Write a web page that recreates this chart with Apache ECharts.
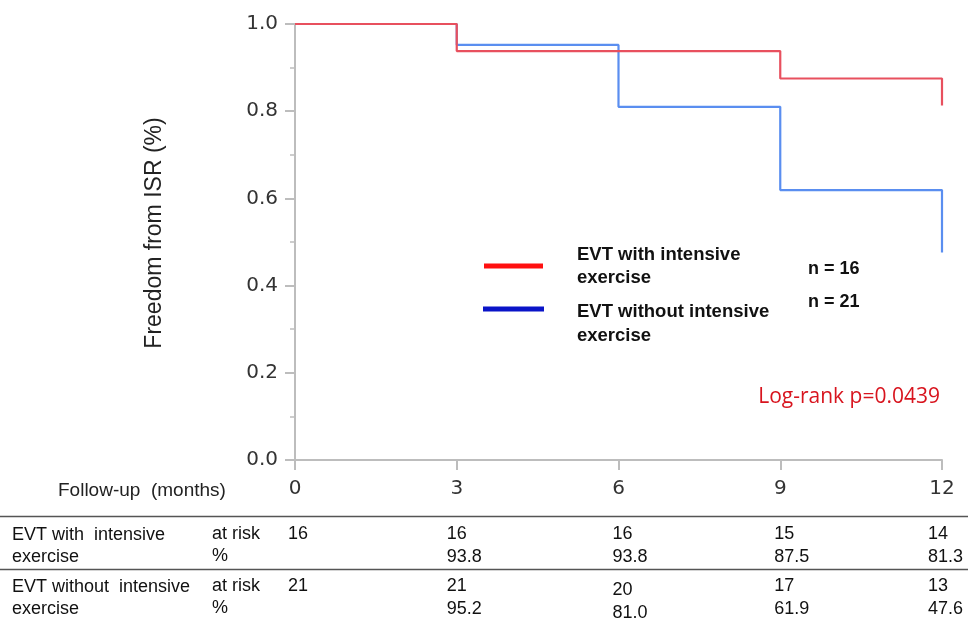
<!DOCTYPE html>
<html>
<head>
<meta charset="utf-8">
<script src="https://cdn.jsdelivr.net/npm/echarts@6/dist/echarts.min.js"></script>
<style>html,body{margin:0;padding:0;background:#fff;}#c{width:968px;height:619px;}</style>
</head>
<body>
<div id="c"></div>
<script>
// ---- data ----
var months = [0, 3, 6, 9, 12];
var yTicks = [0.0, 0.2, 0.4, 0.6, 0.8, 1.0];
var withTimes = [0, 3, 9, 12];
var withSurv = [1.0, 0.938, 0.875, 0.813];
var withoutTimes = [0, 3, 6, 9, 12];
var withoutSurv = [1.0, 0.952, 0.810, 0.619, 0.476];
var groupNames = ['EVT with intensive\nexercise', 'EVT without intensive\nexercise'];
var groupN = ['n = 16', 'n = 21'];
var tableRowNames = ['EVT with  intensive\nexercise', 'EVT without  intensive\nexercise'];
var withAtRisk = [16, 16, 16, 15, 14];
var withPct = ['', '93.8', '93.8', '87.5', '81.3'];
var withoutAtRisk = [21, 21, 20, 17, 13];
var withoutPct = ['', '95.2', '81.0', '61.9', '47.6'];
var pText = 'Log-rank p=0.0439';

function pairs(t, s) { return t.map(function (v, i) { return [v, s[i]]; }); }

var chart = echarts.init(document.getElementById('c'), null, {renderer: 'canvas'});
var axisGray = '#bdbdbd';
chart.setOption({
  animation: false,
  backgroundColor: '#ffffff',
  grid: {left: 295, right: 26, top: 24, bottom: 159, containLabel: false},
  xAxis: {
    type: 'value', min: 0, max: 12, interval: 3,
    axisLine: {show: true, lineStyle: {color: axisGray, width: 2}},
    axisTick: {show: true, length: 10, lineStyle: {color: axisGray, width: 2}},
    splitLine: {show: false},
    axisLabel: {margin: 19, fontFamily: 'DejaVu Sans', fontSize: 20, color: '#333'}
  },
  yAxis: {
    type: 'value', min: 0, max: 1, interval: 0.2,
    axisLine: {show: true, lineStyle: {color: axisGray, width: 2}},
    axisTick: {show: true, length: 10, lineStyle: {color: axisGray, width: 2}},
    minorTick: {show: true, splitNumber: 2, length: 5, lineStyle: {color: axisGray, width: 1.5}},
    splitLine: {show: false},
    axisLabel: {margin: 17, fontFamily: 'DejaVu Sans', fontSize: 20, color: '#333',
      formatter: function (v) { return v.toFixed(1); }}
  },
  series: [
    {type: 'line', step: 'end', data: pairs(withTimes, withSurv), showSymbol: false,
     lineStyle: {color: '#e8505e', width: 2.2}, z: 3},
    {type: 'line', step: 'end', data: pairs(withoutTimes, withoutSurv), showSymbol: false,
     lineStyle: {color: '#5a8ef0', width: 2.2}, z: 2}
  ]
});

var tf = 'Liberation Sans, Arial, sans-serif';
var g = [];
// y axis title
g.push({type: 'text', x: 155, y: 233, rotation: Math.PI / 2,
  style: {text: 'Freedom from ISR (%)', font: '23px ' + tf, fill: '#222', textAlign: 'center', textVerticalAlign: 'middle'}});
// legend
g.push({type: 'line', shape: {x1: 484, y1: 266, x2: 543, y2: 266}, style: {stroke: '#ff1010', lineWidth: 5}});
g.push({type: 'line', shape: {x1: 483, y1: 309, x2: 544, y2: 309}, style: {stroke: '#0a14c8', lineWidth: 5}});
g.push({type: 'text', x: 577, y: 243, style: {text: groupNames[0], font: 'bold 18.5px ' + tf, fill: '#111', lineHeight: 23}});
g.push({type: 'text', x: 577, y: 300, style: {text: groupNames[1], font: 'bold 18.5px ' + tf, fill: '#111', lineHeight: 24}});
g.push({type: 'text', x: 808, y: 269, style: {text: groupN[0], font: 'bold 18px ' + tf, fill: '#111', textVerticalAlign: 'middle'}});
g.push({type: 'text', x: 808, y: 302, style: {text: groupN[1], font: 'bold 18px ' + tf, fill: '#111', textVerticalAlign: 'middle'}});
// log-rank
g.push({type: 'text', x: 940, y: 397, style: {text: pText, font: '21px "Open Sans", sans-serif', fill: '#d8141e', textAlign: 'right', textVerticalAlign: 'middle'}});
// follow-up label
g.push({type: 'text', x: 58, y: 491, style: {text: 'Follow-up  (months)', font: '19px ' + tf, fill: '#222', textVerticalAlign: 'middle'}});
// table lines
g.push({type: 'line', shape: {x1: 0, y1: 516.5, x2: 968, y2: 516.5}, style: {stroke: '#555', lineWidth: 1.5}});
g.push({type: 'line', shape: {x1: 0, y1: 569.5, x2: 968, y2: 569.5}, style: {stroke: '#555', lineWidth: 1.5}});
// row labels
var rowY = [535, 587];
for (var r = 0; r < 2; r++) {
  g.push({type: 'text', x: 12, y: rowY[r] - 11, style: {text: tableRowNames[r], font: '18px ' + tf, fill: '#111', lineHeight: 22}});
  g.push({type: 'text', x: 212, y: rowY[r] - 12, style: {text: 'at risk\n%', font: '18px ' + tf, fill: '#111', lineHeight: 22}});
}
var risk = [withAtRisk, withoutAtRisk];
var pct = [withPct, withoutPct];
var offs = [-7, -10, -6, -6, -14];
for (var r2 = 0; r2 < 2; r2++) {
  for (var i = 0; i < months.length; i++) {
    var px = chart.convertToPixel({xAxisIndex: 0}, months[i]);
    var txt = String(risk[r2][i]) + (pct[r2][i] ? '\n' + pct[r2][i] : '');
    var yTop = (r2 === 0 ? 523 : 575) + ((r2 === 1 && i === 2) ? 4 : 0);
    g.push({type: 'text', x: px + offs[i], y: yTop, style: {text: txt, font: '18px ' + tf, fill: '#111', lineHeight: 23}});
  }
}
chart.setOption({graphic: g});
</script>
</body>
</html>
